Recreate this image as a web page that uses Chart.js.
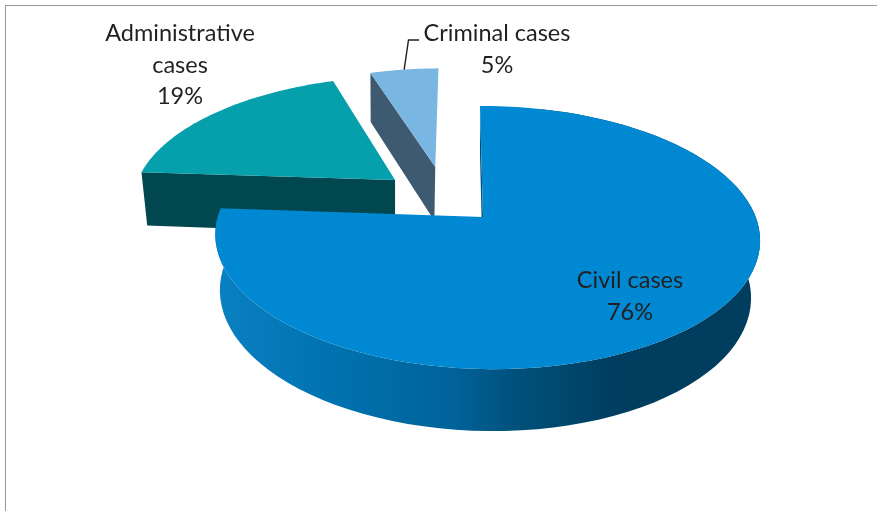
<!DOCTYPE html>
<html lang="en">
<head>
    <meta charset="UTF-8" />
    <title>Cases by type</title>
    <script src="https://cdn.jsdelivr.net/npm/chart.js"></script>
    <style>
        html, body { margin: 0; padding: 0; background: #fff; overflow: hidden; }
        #frame {
            position: absolute; left: 5px; top: 5px; right: 0; bottom: 0;
            border-top: 1.5px solid #999; border-left: 1.5px solid #999;
        }
        #wrap { position: absolute; left: 0; top: 0; width: 877px; height: 511px; }
    </style>
</head>
<body>
    <div id="frame"></div>
    <div id="wrap"><canvas id="pieChart" width="877" height="511"></canvas></div>

    <script>
        const categories = ['Civil cases', 'Administrative cases', 'Criminal cases'];
        const shares = [76, 19, 5];
        const labelLines = [['Civil cases'], ['Administrative', 'cases'], ['Criminal cases']];

        // tilted view of the pie plane, all in units of the pie radius
        const view = { cx: 483, cy: 217, a: 128.4, b: 269, skew: -3.5, roll: 1, depth: 57.6, p: 0.156, q: 0.025, t: -0.015, zx: -2 };

        const look = {
            explode: [[0, 0], [-0.34, 0.3], [-0.184, 0.415]],
            rimScale: [1, 1.025, 1],
            walls: [
                { x0: 218, x1: 620, stops: [[0, '#0a80c2'], [0.3, '#0071ae'], [0.58, '#00639a'], [0.75, '#00507a'], [1, '#003d5e']] },
                '#00474f',
                '#3d5a70'
            ],
            textColor: '#231f20',
            font: '23.5px Lato',
            lineHeight: 31.5,
            labelPos: [{ x: 630, y: 288 }, { x: 180, y: 41 }, { x: 497, y: 41 }],
            leader: [{ x: 408.5, y: 40 }, { x: 419, y: 40 }]
        };

        function project(u, v, z) {
            const w = 1 + view.p * v + view.q * z + view.t * u;
            return {
                x: view.cx + (view.b * u + view.skew * v) / w + view.zx * z,
                y: view.cy + (-view.a * v + view.roll * u + view.depth * z) / w
            };
        }

        function trace(ctx, pts) {
            ctx.beginPath();
            pts.forEach((p, i) => i ? ctx.lineTo(p.x, p.y) : ctx.moveTo(p.x, p.y));
            ctx.closePath();
        }

        function wallFill(ctx, wall) {
            if (typeof wall === 'string') return wall;
            const g = ctx.createLinearGradient(wall.x0, 0, wall.x1, 0);
            wall.stops.forEach(s => g.addColorStop(s[0], s[1]));
            return g;
        }

        const pie3d = {
            id: 'pie3d',
            beforeDatasetsDraw(chart) {
                const ctx = chart.ctx;
                const arcs = chart.getDatasetMeta(0).data;
                const bg = chart.data.datasets[0].backgroundColor;

                // far slices first, the big one goes over them
                const order = arcs.map((a, i) => i).sort((i, j) => look.explode[j][1] - look.explode[i][1]);
                order.forEach(i => {
                    const el = arcs[i];
                    const [ex, ey] = look.explode[i];
                    const sc = look.rimScale[i];
                    const rim = [];
                    const steps = 90;
                    for (let s = 0; s <= steps; s++) {
                        const ang = el.startAngle + (el.endAngle - el.startAngle) * s / steps;
                        rim.push([ex + sc * Math.cos(ang), ey - sc * Math.sin(ang)]);
                    }
                    const top = rim.map(r => project(r[0], r[1], 0));
                    const bottom = rim.map(r => project(r[0], r[1], 1));
                    const apexTop = project(ex, ey, 0);
                    const apexBottom = project(ex, ey, 1);

                    ctx.fillStyle = wallFill(ctx, look.walls[i]);
                    // pulled out slices only show their first cut wall
                    if (ex === 0) {
                        // the far end of the rim wall is hidden under the face anyway
                        trace(ctx, top.slice(5).concat(bottom.slice(5).reverse()));
                        ctx.fill();
                        // big slice: just a thin sliver shows beside the gap
                        const b0 = { x: bottom[0].x - view.zx, y: bottom[0].y };
                        const b1 = { x: apexBottom.x - view.zx, y: apexBottom.y };
                        ctx.fillStyle = '#00507a';
                        trace(ctx, [apexTop, top[0], b0, b1]);
                        ctx.fill();
                    } else {
                        trace(ctx, [apexTop, top[0], bottom[0], apexBottom]);
                        ctx.fill();
                    }
                    // top face
                    ctx.fillStyle = bg[i];
                    trace(ctx, [apexTop].concat(top));
                    ctx.fill();
                });
                return false; // own drawing replaces the flat arcs
            },
            afterDraw(chart) {
                const ctx = chart.ctx;
                ctx.save();
                ctx.fillStyle = look.textColor;
                ctx.font = look.font;
                ctx.textAlign = 'center';
                ctx.textBaseline = 'alphabetic';
                labelLines.forEach((lines, i) => {
                    const pos = look.labelPos[i];
                    lines.concat(shares[i] + '%').forEach((t, n) => {
                        ctx.fillText(t, pos.x, pos.y + n * look.lineHeight);
                    });
                });
                // leader for the small slice
                const el = chart.getDatasetMeta(0).data[2];
                const mid = (el.startAngle + el.endAngle) / 2;
                const [ex, ey] = look.explode[2];
                const from = project(ex + Math.cos(mid), ey - Math.sin(mid), 0);
                ctx.strokeStyle = look.textColor;
                ctx.lineWidth = 1.4;
                ctx.beginPath();
                ctx.moveTo(from.x, from.y);
                ctx.lineTo(look.leader[0].x, look.leader[0].y);
                ctx.lineTo(look.leader[1].x, look.leader[1].y);
                ctx.stroke();
                ctx.restore();
            }
        };

        new Chart(document.getElementById('pieChart'), {
            type: 'pie',
            data: {
                labels: categories,
                datasets: [{
                    data: shares,
                    backgroundColor: ['#0089d2', '#06a0ac', '#7ab6e2'],
                    borderWidth: 0
                }]
            },
            options: {
                responsive: false,
                animation: false,
                plugins: {
                    legend: { display: false },
                    tooltip: { enabled: false }
                }
            },
            plugins: [pie3d]
        });
    </script>
</body>
</html>
